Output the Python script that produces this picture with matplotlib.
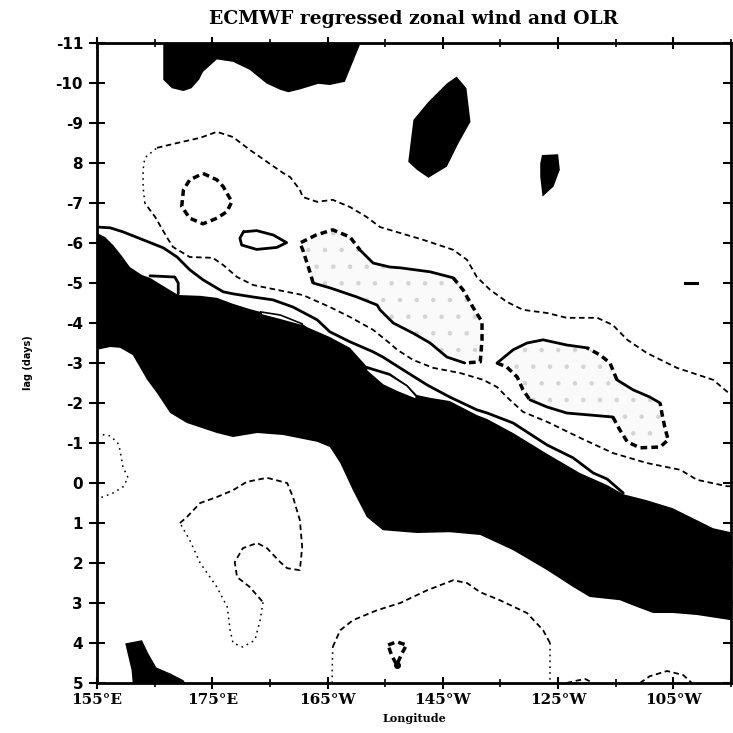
import matplotlib
matplotlib.use('Agg')
import matplotlib.pyplot as plt
import numpy as np

plt.rcParams['lines.scale_dashes'] = False
plt.rcParams['hatch.linewidth'] = 0.8

# ---------------- text / ticks ----------------
title = 'ECMWF regressed zonal wind and OLR'
xlabel = 'Longitude'
ylabel = 'lag (days)'
xticks = [155, 175, 195, 215, 235, 255]
xminor = [165, 185, 205, 225, 245, 265]
xticklabels = ['155°E', '175°E', '165°W', '145°W', '125°W', '105°W']
yticks = list(range(-11, 6))
yticklabels = ['-11', '-10', '-9', '8', '-7', '-6', '-5', '-4', '-3', '-2', '-1',
               '0', '1', '2', '3', '4', '5']

# ---------------- filled (black) regions: (longitude E, lag days) ----------------
blk_top_lon = [166.5, 166.5, 168.0, 170.0, 171.4, 172.7, 173.4, 175.8, 178.6, 181.5, 184.4,
               186.8, 188.2, 190.2, 193.4, 195.4, 198.0, 200.6, 200.6]
blk_top_lag = [-11, -10.08, -9.87, -9.8, -9.87, -10.08, -10.28, -10.59, -10.53, -10.33, -9.99,
               -9.83, -9.77, -9.84, -9.98, -9.95, -10.03, -10.95, -11]

blk_145_lon = [217.4, 219.1, 219.8, 217.7, 215.7, 212.5, 210.5, 209.0, 209.9, 212.5, 215.7]
blk_145_lag = [-10.16, -9.87, -9.03, -8.49, -7.91, -7.63, -7.83, -8.03, -9.08, -9.53, -9.99]

blk_125_lon = [232.2, 235.0, 235.3, 234.2, 232.3, 231.9, 231.9]
blk_125_lag = [-8.2, -8.22, -7.83, -7.41, -7.16, -7.66, -7.99]

blk_bl_lon = [159.9, 162.8, 163.9, 165.3, 167.7, 170.0, 170.3, 161.2, 161.0]
blk_bl_lag = [4.01, 3.93, 4.26, 4.61, 4.76, 4.93, 5.0, 5.0, 4.68]

blk_dash_lon = [257.0, 259.1]
blk_dash_lag = [-5.0, -5.0]

band_up_lon = [155.0, 156.4, 157.8, 159.3, 160.7, 162.8, 164.2, 166.8, 169.1, 172.9, 175.8,
               178.6, 181.5, 183.3, 186.8, 190.6, 191.4, 195.4, 198.9, 201.7, 205.8, 208.8,
               210.5, 212.8, 216.2, 220.9, 222.7, 227.2, 233.1, 238.8, 243.5, 246.3, 250.4,
               254.9, 259.1, 261.9, 265.0]
band_up_lag = [-6.25, -6.15, -5.95, -5.68, -5.4, -5.2, -5.13, -4.9, -4.7, -4.68, -4.63,
               -4.48, -4.35, -4.28, -4.2, -3.98, -3.9, -3.65, -3.38, -2.93, -2.75, -2.45,
               -2.2, -2.13, -2.05, -1.7, -1.6, -1.25, -0.73, -0.25, 0.05, 0.28, 0.43,
               0.63, 0.93, 1.13, 1.23]
band_lo_lon = [265.0, 259.1, 254.9, 251.5, 248.7, 245.7, 240.5, 237.6, 233.1, 227.2, 221.5,
               216.2, 210.5, 204.6, 201.8, 199.4, 197.2, 195.4, 193.2, 187.3, 182.8, 178.6,
               175.8, 170.6, 167.7, 165.4, 163.7, 161.2, 159.0, 157.3, 155.0]
band_lo_lag = [3.43, 3.3, 3.25, 3.25, 3.1, 2.93, 2.85, 2.6, 2.18, 1.68, 1.3,
               1.23, 1.25, 1.18, 0.85, 0.18, -0.5, -0.9, -1.03, -1.2, -1.25, -1.15,
               -1.25, -1.5, -1.75, -2.25, -2.58, -3.2, -3.38, -3.4, -3.33]

# white slivers inside the band
sl1_lon = [183.3, 186.8, 190.6, 190.6, 186.8, 183.6]
sl1_lag = [-4.28, -4.2, -3.98, -3.93, -4.08, -4.2]
sl2_lon = [201.7, 205.8, 208.8, 210.5, 210.2, 207.1, 204.6, 201.8]
sl2_lag = [-2.88, -2.7, -2.43, -2.15, -2.1, -2.28, -2.45, -2.8]

# ---------------- solid contours ----------------
sol1_lon = [155.0, 157.3, 159.5, 163.0, 166.5, 168.9, 171.1, 173.4, 176.9, 178.6, 182.1,
            185.5, 189.0, 193.2, 195.4, 198.9, 202.9, 204.6, 208.1, 212.3, 216.2, 220.9,
            222.7, 227.2, 233.1, 237.6, 241.1, 243.5, 246.3]
sol1_lag = [-6.4, -6.38, -6.28, -6.08, -5.88, -5.65, -5.33, -5.08, -4.78, -4.73, -4.65,
            -4.58, -4.4, -4.08, -3.78, -3.53, -3.28, -3.15, -2.83, -2.45, -2.15, -1.83,
            -1.75, -1.5, -0.95, -0.63, -0.25, -0.1, 0.25]
notch_lon = [164.2, 168.5, 169.1, 169.1]
notch_lag = [-5.18, -5.15, -5.0, -4.73]
loop_lon = [180.4, 182.7, 185.6, 187.9, 186.2, 182.7, 180.1, 179.8, 180.4]
loop_lag = [-6.28, -6.31, -6.2, -6.01, -5.89, -5.84, -5.95, -6.12, -6.28]

# ---------------- thin dashed contour (upper) ----------------
d1a_lon = [265.0, 264.3, 259.1, 256.2, 250.4, 244.5, 238.8, 233.1, 228.9, 226.1, 224.4,
           222.0, 218.0, 213.3, 209.8, 207.1, 205.5, 202.9, 198.9, 195.4, 190.7, 186.2,
           182.1, 179.3, 176.9, 175.1, 171.1, 168.2, 167.1, 165.1, 163.3]
d1a_lag = [0.08, 0.08, -0.08, -0.33, -0.5, -0.75, -1.13, -1.53, -1.78, -2.15, -2.4,
           -2.58, -2.75, -2.88, -3.08, -3.33, -3.53, -3.83, -4.15, -4.4, -4.7, -4.83,
           -4.95, -5.15, -5.45, -5.63, -5.65, -5.9, -6.15, -6.65, -7.0]
d1b_lon = [163.3, 163.0, 163.0, 163.3, 165.4]
d1b_lag = [-7.0, -7.4, -7.83, -8.13, -8.38]
d1c_lon = [165.4, 168.9, 172.9, 175.8, 178.6, 181.5, 184.5, 187.3, 188.5, 190.2, 190.7,
           193.2, 195.9, 198.9, 201.8, 204.1, 207.6, 211.6, 216.8, 219.2, 220.9, 223.2,
           226.1, 228.9, 233.1, 236.5, 241.8, 244.5, 247.0, 250.4, 255.6, 261.9, 265.0]
d1c_lag = [-8.38, -8.5, -8.63, -8.78, -8.65, -8.33, -8.03, -7.75, -7.65, -7.33, -7.15,
           -7.03, -7.08, -6.9, -6.65, -6.4, -6.25, -6.08, -5.83, -5.58, -5.15, -4.83,
           -4.53, -4.33, -4.25, -4.13, -4.13, -3.95, -3.58, -3.25, -2.88, -2.58, -2.2]

# ---------------- thick dashed small loop ----------------
d2_lon = [173.4, 175.8, 176.9, 178.4, 177.5, 175.8, 173.4, 171.1, 169.7, 170.0, 171.1, 173.4]
d2_lag = [-7.74, -7.58, -7.41, -7.03, -6.78, -6.62, -6.48, -6.62, -6.91, -7.33, -7.58, -7.74]

# ---------------- stippled region 1 (segments) ----------------
r1a_lon = [192.5, 192.0, 190.7, 190.2, 193.0, 195.9, 198.9, 200.6]
r1a_lag = [-5.0, -5.25, -5.83, -6.0, -6.2, -6.33, -6.15, -5.83]
r1b_lon = [200.6, 202.9, 205.8, 207.6, 212.8, 216.8]
r1b_lag = [-5.83, -5.5, -5.4, -5.38, -5.28, -5.13]
r1c_lon = [216.8, 218.5, 220.2, 221.8, 221.8, 221.5, 218.8]
r1c_lag = [-5.13, -4.83, -4.4, -4.03, -3.58, -3.03, -3.0]
r1d_lon = [218.8, 215.7, 212.8, 209.8, 206.4, 204.1, 203.6, 200.1, 195.4, 192.5]
r1d_lag = [-3.0, -3.15, -3.5, -3.75, -4.0, -4.33, -4.45, -4.65, -4.88, -5.0]

# ---------------- stippled region 2 (segments) ----------------
r2a_lon = [224.4, 226.1, 227.9, 228.9, 230.1]
r2a_lag = [-3.0, -2.9, -2.65, -2.33, -2.08]
r2b_lon = [230.1, 233.1, 236.5, 240.5, 244.5]
r2b_lag = [-2.08, -1.9, -1.75, -1.7, -1.65]
r2c_lon = [244.5, 245.7, 247.0, 249.2, 252.7, 254.1, 253.5, 253.0, 252.7]
r2c_lag = [-1.65, -1.33, -1.03, -0.88, -0.9, -1.08, -1.4, -1.75, -2.0]
r2d_lon = [252.7, 250.9, 248.0, 245.2]
r2d_lag = [-2.0, -2.15, -2.33, -2.58]
r2e_lon = [245.2, 244.0, 242.3, 240.0]
r2e_lag = [-2.58, -3.0, -3.2, -3.38]
r2f_lon = [240.0, 236.5, 232.4, 229.6, 227.2, 224.4]
r2f_lag = [-3.38, -3.45, -3.58, -3.5, -3.33, -3.0]

# ---------------- lower contours ----------------
d6_lon = [155.0, 157.3, 158.6, 159.0, 159.5, 160.4, 159.5, 157.8, 155.0]
d6_lag = [-1.23, -1.18, -1.0, -0.83, -0.4, -0.13, 0.1, 0.25, 0.4]

d7a_lon = [169.4, 170.6, 172.9, 175.8, 178.6, 181.0, 184.5, 188.0, 189.0, 190.2, 190.6,
           190.2, 188.0, 186.8, 184.5, 182.8, 180.3, 178.9, 179.3, 181.5, 183.8]
d7a_lag = [1.0, 0.85, 0.5, 0.35, 0.18, -0.03, -0.13, 0.0, 0.35, 0.93, 1.6,
           2.18, 2.13, 1.98, 1.63, 1.5, 1.63, 1.98, 2.35, 2.6, 2.98]
d7b_lon = [183.8, 183.3, 182.4, 180.3, 178.6, 178.1, 177.6, 175.8, 172.9, 171.1, 169.4]
d7b_lag = [2.98, 3.43, 3.93, 4.1, 4.0, 3.68, 3.1, 2.6, 2.0, 1.43, 1.0]

d8a_lon = [195.8, 195.8, 195.9]
d8a_lag = [5.0, 4.73, 4.1]
d8b_lon = [195.9, 197.2, 199.4, 203.6, 207.6, 212.3, 216.8, 219.2, 221.5, 224.9, 229.6,
           232.4, 233.6]
d8b_lag = [4.1, 3.68, 3.43, 3.18, 3.0, 2.68, 2.43, 2.5, 2.73, 2.93, 3.25,
           3.68, 4.0]
d8c_lon = [233.6, 233.6, 233.6]
d8c_lag = [4.0, 4.5, 5.0]

d9a_lon = [236.5, 237.9, 239.7, 241.1]
d9a_lag = [5.0, 4.95, 4.9, 5.0]
d9b_lon = [249.2, 250.9, 253.9, 256.7, 258.2]
d9b_lag = [5.0, 4.83, 4.7, 4.8, 5.0]

d10_lon = [205.5, 207.0, 208.7, 207.9, 207.0, 206.1, 205.5]
d10_lag = [4.05, 3.97, 4.05, 4.26, 4.55, 4.3, 4.05]

# ---------------- drawing ----------------
fig = plt.figure(figsize=(7.33, 7.33), dpi=100)
ax = fig.add_axes([0.1323, 0.0682, 0.8650, 0.8731])
ax.set_xlim(155, 265)
ax.set_ylim(5, -11)

thin = dict(color='black', lw=1.3, linestyle=(0, (4.0, 2.6)))
thick = dict(color='black', lw=2.5, linestyle=(0, (4.8, 3.0)))
dotted = dict(color='black', lw=1.1, linestyle=(0, (1.2, 3.0)))
solid = dict(color='black', lw=2.0, solid_capstyle='round')

# stipple fills (sparse light-grey dots)
r1_lon = r1a_lon + r1b_lon[1:] + r1c_lon[1:] + r1d_lon[1:]
r1_lag = r1a_lag + r1b_lag[1:] + r1c_lag[1:] + r1d_lag[1:]
r2_lon = r2a_lon + r2b_lon[1:] + r2c_lon[1:] + r2d_lon[1:] + r2e_lon[1:] + r2f_lon[1:]
r2_lag = r2a_lag + r2b_lag[1:] + r2c_lag[1:] + r2d_lag[1:] + r2e_lag[1:] + r2f_lag[1:]
for lo, la in ((r1_lon, r1_lag), (r2_lon, r2_lag)):
    ax.fill(lo, la, facecolor='#fafafa', edgecolor='#d4d4d4', hatch='.', lw=0, zorder=1)

# black fills
ax.fill(blk_top_lon, blk_top_lag, color='black', lw=0, zorder=2)
ax.fill(blk_145_lon, blk_145_lag, color='black', lw=0, zorder=2)
ax.fill(blk_125_lon, blk_125_lag, color='black', lw=0, zorder=2)
ax.fill(blk_bl_lon, blk_bl_lag, color='black', lw=0, zorder=2)
ax.plot(blk_dash_lon, blk_dash_lag, color='black', lw=2.2, zorder=2)
ax.fill(band_up_lon + band_lo_lon, band_up_lag + band_lo_lag, color='black', lw=0, zorder=2)
for lo, la in ((sl1_lon, sl1_lag), (sl2_lon, sl2_lag)):
    ax.fill(lo, la, facecolor='white', edgecolor='black', lw=1.2, zorder=3)

# solid contours
ax.plot(sol1_lon, sol1_lag, zorder=4, **solid)
ax.plot(notch_lon, notch_lag, zorder=4, **solid)
ax.plot(loop_lon, loop_lag, zorder=4, **solid)

# dashed / dotted contours
ax.plot(d1a_lon, d1a_lag, zorder=4, **thin)
ax.plot(d1b_lon, d1b_lag, zorder=4, **dotted)
ax.plot(d1c_lon, d1c_lag, zorder=4, **thin)
ax.plot(d2_lon, d2_lag, zorder=4, **thick)

for lo, la in ((r1a_lon, r1a_lag), (r1c_lon, r1c_lag), (r2a_lon, r2a_lag),
               (r2c_lon, r2c_lag), (r2e_lon, r2e_lag)):
    ax.plot(lo, la, zorder=4, **thick)
for lo, la in ((r1b_lon, r1b_lag), (r1d_lon, r1d_lag), (r2b_lon, r2b_lag),
               (r2d_lon, r2d_lag), (r2f_lon, r2f_lag)):
    ax.plot(lo, la, zorder=4, **solid)

ax.plot(d6_lon, d6_lag, zorder=4, **dotted)
ax.plot(d7a_lon, d7a_lag, zorder=4, **thin)
ax.plot(d7b_lon, d7b_lag, zorder=4, **dotted)
ax.plot(d8a_lon, d8a_lag, zorder=4, **dotted)
ax.plot(d8b_lon, d8b_lag, zorder=4, **thin)
ax.plot(d8c_lon, d8c_lag, zorder=4, **dotted)
ax.plot(d9a_lon, d9a_lag, zorder=4, **thin)
ax.plot(d9b_lon, d9b_lag, zorder=4, **thin)
ax.plot(d10_lon, d10_lag, zorder=4, **thick)
ax.plot([d10_lon[4]], [d10_lag[4]], 'o', color='black', ms=4, zorder=4)

# axes styling
for sp in ax.spines.values():
    sp.set_linewidth(2.0)
    sp.set_zorder(5)
ax.set_xticks(xticks)
ax.set_xticks(xminor, minor=True)
ax.set_xticklabels(xticklabels, fontfamily='DejaVu Serif', fontweight='bold', fontsize=11)
ax.set_yticks(yticks)
ax.set_yticklabels(yticklabels, fontfamily='DejaVu Sans', fontweight='bold', fontsize=11)
ax.tick_params(axis='x', which='major', direction='inout', length=9, width=1.5,
               top=True, bottom=True, pad=3)
ax.tick_params(axis='x', which='minor', direction='inout', length=6, width=1.2,
               top=True, bottom=True)
ax.tick_params(axis='y', which='major', direction='inout', length=12, width=1.5,
               left=True, right=True, pad=4)
ax.set_xlabel(xlabel, fontfamily='DejaVu Serif', fontweight='bold', fontsize=8, labelpad=4)
ax.set_ylabel(ylabel, fontfamily='DejaVu Sans', fontweight='bold', fontsize=7, labelpad=16)
ax.set_title(title, fontfamily='DejaVu Serif', fontweight='bold', fontsize=13.5, pad=14)

fig.savefig('out.png', dpi=100, facecolor='white')
